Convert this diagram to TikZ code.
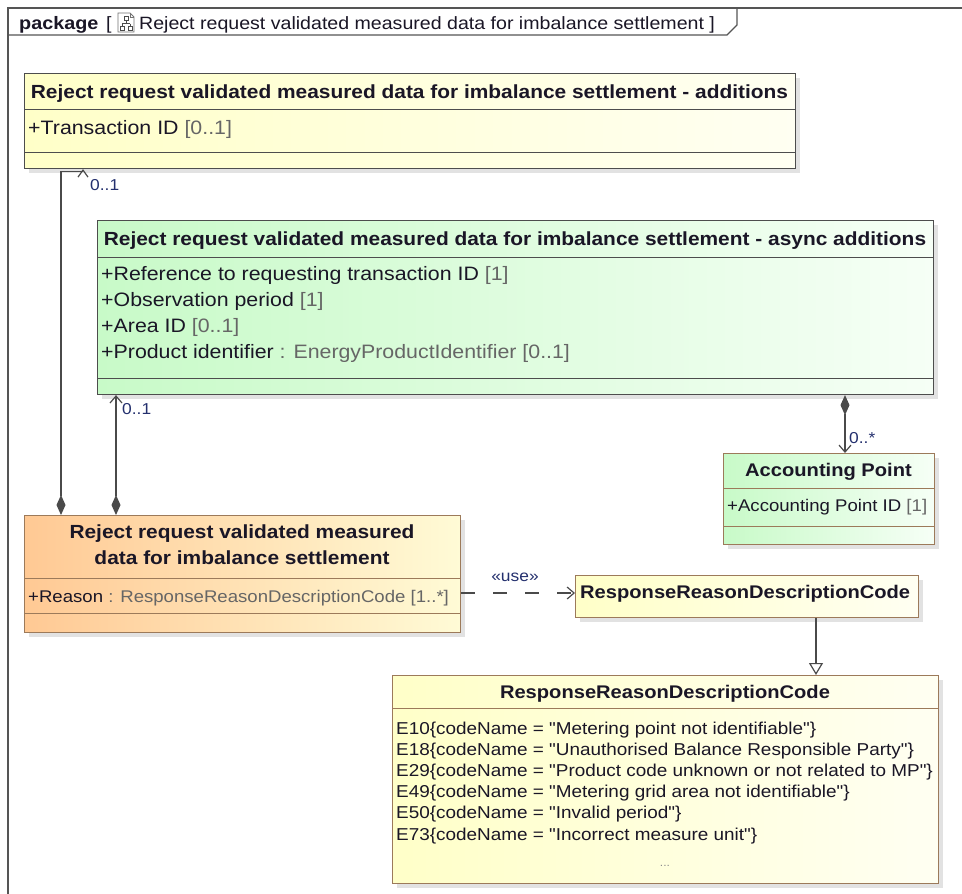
\documentclass[tikz,border=0pt]{standalone}
\usepackage{fontspec}
\setmainfont{Liberation Sans}[FakeStretch=1.1, Ligatures=TeXOff]
\usetikzlibrary{arrows.meta,shadows,calc}

\definecolor{frameC}{HTML}{555555}
\definecolor{edgeG}{HTML}{4D4D4D}
\definecolor{edgeB}{HTML}{9C7A5A}
\definecolor{ylwL}{HTML}{FFFFC8}
\definecolor{ylwR}{HTML}{FFFFF2}
\definecolor{grnL}{HTML}{C8FAC8}
\definecolor{grnR}{HTML}{F6FFF6}
\definecolor{orgL}{HTML}{FFC994}
\definecolor{orgR}{HTML}{FFFBD6}
\definecolor{nameC}{HTML}{1A1626}
\definecolor{typeC}{HTML}{666666}
\definecolor{multC}{HTML}{24306E}
\definecolor{lineC}{HTML}{4A4A4A}

\newcommand\ttlfont{\fontsize{19}{22}\selectfont\bfseries}
\newcommand\ttlbfont{\fontsize{18.3}{22}\selectfont\bfseries}
\newcommand\attfont{\fontsize{19.4}{22}\selectfont}
\newcommand\attbfont{\fontsize{16.9}{20}\selectfont}
\newcommand\enmfont{\fontsize{17.2}{20}\selectfont}
\newcommand\lblfont{\fontsize{15.8}{18}\selectfont}
\newcommand\mult[1]{\textcolor{typeC}{#1}}

\tikzset{
  cls/.style={rectangle, draw=#1, line width=1.1pt, inner sep=0pt, anchor=north west,
    drop shadow={shadow xshift=4pt, shadow yshift=-4pt, fill=black!22}},
  sepline/.style={draw=#1, line width=1pt},
  ttl/.style={font=\ttlfont, text=nameC, inner sep=0pt, anchor=base},
  ttlb/.style={font=\ttlbfont, text=nameC, inner sep=0pt, anchor=base},
  att/.style={font=\attfont, text=nameC, inner sep=0pt, anchor=base west},
  attb/.style={font=\attbfont, text=nameC, inner sep=0pt, anchor=base west},
  enm/.style={font=\enmfont, text=nameC, inner sep=0pt, anchor=base west},
  lbl/.style={font=\lblfont, text=multC, inner sep=0pt, anchor=base west},
  frm/.style={draw=frameC, line width=1.4pt},
  conn/.style={draw=lineC, line width=1.2pt},
  comp/.style={{Diamond[length=20pt,width=9pt,fill=lineC]}-},
  navi/.style={-{Straight Barb[length=7pt,width=12pt]}},
  compnavi/.style={{Diamond[length=20pt,width=9pt,fill=lineC]}-{Straight Barb[length=7pt,width=12pt]}},
}

\begin{document}
\begin{tikzpicture}[x=1pt, y=-1pt]
\useasboundingbox[fill=white] (0,0) rectangle (962,894);

% package frame with its name tab
\draw[frm] (8,894) -- (8,8) -- (962,8);
\draw[frm] (8,35) -- (727,35) -- (737,25) -- (737,8);
\node[font=\fontsize{18}{20}\selectfont\bfseries, text=nameC, inner sep=0pt, anchor=base west] (pkgkw) at (19,29) {package};
\node[font=\fontsize{17.8}{20}\selectfont, text=nameC, inner sep=0pt, anchor=base west] (pkgob) at (106,29) {[};
% diagram icon
\draw[draw=black!55, fill=white, line width=0.8pt] (118,13) -- (130,13) -- (134,17) -- (134,32) -- (118,32) -- cycle;
\draw[draw=black!55, line width=0.8pt] (130,13) -- (130,17) -- (134,17);
\draw[draw=black!70, line width=0.8pt] (124,16.5) rectangle (128,20.5)
  (120,26) rectangle (124,30) (128,26) rectangle (132,30)
  (126,20.5) -- (126,23.5) (122,23.5) -- (130,23.5) (122,23.5) -- (122,26) (130,23.5) -- (130,26);
\node[font=\fontsize{17.8}{20}\selectfont, text=nameC, inner sep=0pt, anchor=base west] (pkgname) at (139,29) {Reject request validated measured data for imbalance settlement ]};

% class: additions
\node[cls=edgeG, minimum width=771pt, minimum height=95pt, left color=ylwL, right color=ylwR] (add) at (24,73) {};
\draw[sepline=edgeG] (24,109) -- (795,109);
\draw[sepline=edgeG] (24,152) -- (795,152);
\node[ttl] (addT) at (409.5,98) {Reject request validated measured data for imbalance settlement - additions};
\node[att] (addA1) at (28,134) {+Transaction ID \mult{[0..1]}};

% class: async additions
\node[cls=edgeG, minimum width=836pt, minimum height=174pt, left color=grnL, right color=grnR] (asy) at (97,220) {};
\draw[sepline=edgeG] (97,257) -- (933,257);
\draw[sepline=edgeG] (97,378) -- (933,378);
\node[ttl] (asyT) at (515,245) {Reject request validated measured data for imbalance settlement - async additions};
\node[att] (asyA1) at (101,280) {+Reference to requesting transaction ID \mult{[1]}};
\node[att] (asyA2) at (101,306) {+Observation period \mult{[1]}};
\node[att] (asyA3) at (101,332) {+Area ID \mult{[0..1]}};
\node[att] (asyA4) at (101,358) {+Product identifier \mult{: EnergyProductIdentifier [0..1]}};

% class: accounting point
\node[cls=edgeB, minimum width=211pt, minimum height=91pt, left color=grnL, right color=grnR] (acc) at (723,453) {};
\draw[sepline=edgeB] (723,488) -- (934,488);
\draw[sepline=edgeB] (723,526) -- (934,526);
\node[ttlb] (accT) at (828.5,476) {Accounting Point};
\node[attb] (accA1) at (727,511) {+Accounting Point ID \mult{[1]}};

% class: request rejection
\node[cls=edgeB, minimum width=436pt, minimum height=117pt, left color=orgL, right color=orgR] (req) at (24,515) {};
\draw[sepline=edgeB] (24,578) -- (460,578);
\draw[sepline=edgeB] (24,613) -- (460,613);
\node[ttl] (reqT1) at (242,538) {Reject request validated measured};
\node[ttl] (reqT2) at (242,564) {data for imbalance settlement};
\node[attb] (reqA1) at (28,602) {+Reason \mult{: ResponseReasonDescriptionCode [1..*]}};

% data type reference
\node[cls=edgeB, minimum width=343pt, minimum height=42pt, left color=ylwL, right color=ylwR] (rrdc) at (575,575) {};
\node[ttlb, anchor=base west] (rrdcT) at (580,598) {ResponseReasonDescriptionCode};

% enumeration
\node[cls=edgeB, minimum width=546pt, minimum height=208pt, left color=ylwL, right color=ylwR] (enm) at (392,675) {};
\draw[sepline=edgeB] (392,708) -- (938,708);
\node[ttlb] (enmT) at (665,698) {ResponseReasonDescriptionCode};
\node[enm] (enm1) at (396,734) {E10\{codeName = "Metering point not identifiable"\}};
\node[enm] (enm2) at (396,755.2) {E18\{codeName = "Unauthorised Balance Responsible Party"\}};
\node[enm] (enm3) at (396,776.4) {E29\{codeName = "Product code unknown or not related to MP"\}};
\node[enm] (enm4) at (396,797.6) {E49\{codeName = "Metering grid area not identifiable"\}};
\node[enm] (enm5) at (396,818.8) {E50\{codeName = "Invalid period"\}};
\node[enm] (enm6) at (396,840) {E73\{codeName = "Incorrect measure unit"\}};
\node[enm, anchor=base, text=black!45, font=\fontsize{11}{12}\selectfont] (enmMore) at (665,866) {...};

% connector guide positions
\coordinate (kA) at (61,0);
\coordinate (kD) at (83,0);
\coordinate (kB) at (116,0);
\coordinate (kC) at (845,0);
\coordinate (kE) at (816,0);
\coordinate (kF) at (0,593);

% associations
\draw[conn, comp] (kA |- req.north) -- ($(kA |- add.south)+(0,2)$) -- ($(kD |- add.south)+(0,2)$);
\draw[conn] ($(kD |- add.south)+(-5,8)$) -- ($(kD |- add.south)+(0,1)$) -- ($(kD |- add.south)+(5,8)$);
\node[lbl] (mAdd) at (90,190) {0..1};

\draw[conn, compnavi] (kB |- req.north) -- (kB |- asy.south);
\node[lbl] (mAsy) at (122,414) {0..1};

\draw[conn, compnavi] (kC |- asy.south) -- (kC |- acc.north);
\node[lbl] (mAcc) at (849,443) {0..*};

% usage dependency
\draw[conn, navi, dash pattern=on 14pt off 18pt] (req.east |- kF) -- (rrdc.west |- kF);
\node[lbl, anchor=base] (useL) at (515,581) {«use»};

% generalization
\draw[conn, -{Triangle[open, length=12pt, width=14pt, fill=white]}] (kE |- rrdc.south) -- (kE |- enm.north);
\end{tikzpicture}
\end{document}
